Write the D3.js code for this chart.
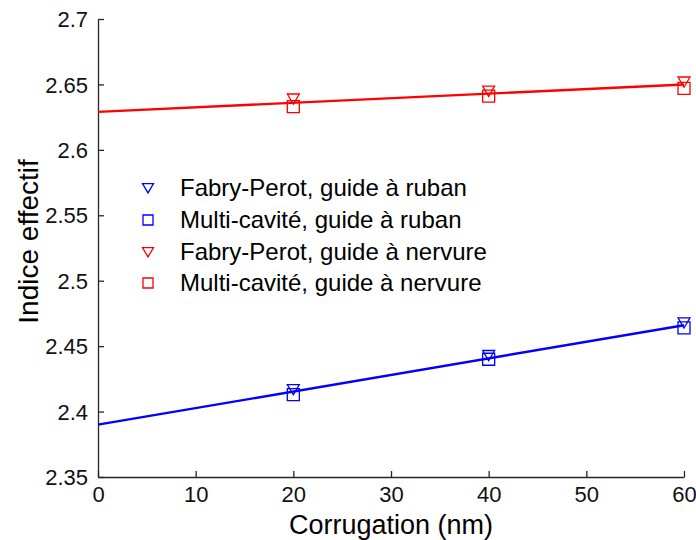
<!DOCTYPE html>
<html>
<head>
<meta charset="utf-8">
<script src="https://cdn.jsdelivr.net/npm/d3@7"></script>
<style>
  body { margin: 0; background: #fff; }
  svg { font-family: "Liberation Sans", Arial, sans-serif; }
</style>
</head>
<body>
<svg id="chart" width="696" height="540"></svg>
<script>
// Corrugation depths (nm) where measurements were taken.
const corrugation = [20, 40, 60];

// Measured effective indices, one array per series.
const fpRuban = [2.417, 2.443, 2.468];
const mcRuban = [2.413, 2.440, 2.464];
const fpNervure = [2.639, 2.645, 2.652];
const mcNervure = [2.633, 2.641, 2.647];

// Linear fits, drawn from x = 0 to x = 60.
const fitX = [0, 60];
const fitRuban = [2.390, 2.466];
const fitNervure = [2.629, 2.650];

const xTicks = [0, 10, 20, 30, 40, 50, 60];
const yTicks = [2.35, 2.4, 2.45, 2.5, 2.55, 2.6, 2.65, 2.7];

const legendLabels = [
  'Fabry-Perot, guide à ruban',
  'Multi-cavité, guide à ruban',
  'Fabry-Perot, guide à nervure',
  'Multi-cavité, guide à nervure',
];

const BLUE = '#0000ff';
const RED = '#ff0000';
const AXIS = '#262626';

const svg = d3.select('#chart');

const x = d3.scaleLinear().domain([0, 60]).range([98, 684]);
const y = d3.scaleLinear().domain([2.35, 2.7]).range([477, 19]);

// Axes: MATLAB style, ticks pointing inward, no box.
const xAxis = svg.append('g')
  .attr('transform', `translate(0,${y(2.35)})`)
  .call(d3.axisBottom(x).tickValues(xTicks).tickSizeInner(-6).tickSizeOuter(0)
    .tickFormat(d3.format('d')));

const yAxis = svg.append('g')
  .attr('transform', `translate(${x(0)},0)`)
  .call(d3.axisLeft(y).tickValues(yTicks).tickSizeInner(-6).tickSizeOuter(0)
    .tickFormat((d) => String(+d.toFixed(2))).tickPadding(10));

[xAxis, yAxis].forEach((g) => {
  g.select('.domain').attr('stroke', AXIS).attr('stroke-width', 1.3);
  g.selectAll('.tick line').attr('stroke', AXIS).attr('stroke-width', 1.3);
  g.selectAll('.tick text')
    .attr('fill', '#111')
    .style('font-size', '22px')
    .style('font-family', '"Liberation Sans", Arial, sans-serif');
});
xAxis.selectAll('.tick text').attr('y', 25).attr('dy', 0);
yAxis.selectAll('.tick text').attr('dy', '0.35em');

// Axis titles.
svg.append('text')
  .attr('x', (x(0) + x(60)) / 2)
  .attr('y', 534)
  .attr('text-anchor', 'middle')
  .style('font-size', '27px')
  .text('Corrugation (nm)');

svg.append('text')
  .attr('transform', `translate(38,${y(2.53)}) rotate(-90)`)
  .attr('text-anchor', 'middle')
  .style('font-size', '28px')
  .text('Indice effectif');

// Fit lines.
const line = d3.line().x((d) => x(d[0])).y((d) => y(d[1]));
[[fitRuban, BLUE], [fitNervure, RED]].forEach(([vals, color]) => {
  svg.append('path')
    .datum(fitX.map((xv, i) => [xv, vals[i]]))
    .attr('d', line)
    .attr('fill', 'none')
    .attr('stroke', color)
    .attr('stroke-width', 2.4);
});

// Marker shapes.
const triPath = (s) => `M${-s},${-s * 0.8} L${s},${-s * 0.8} L0,${s * 0.9} Z`;
const sqPath = (s) => `M${-s},${-s} H${s} V${s} H${-s} Z`;

const series = [
  {vals: fpRuban, color: BLUE, shape: 'tri'},
  {vals: mcRuban, color: BLUE, shape: 'sq'},
  {vals: fpNervure, color: RED, shape: 'tri'},
  {vals: mcNervure, color: RED, shape: 'sq'},
];

series.forEach((s) => {
  svg.append('g')
    .selectAll('path')
    .data(corrugation.map((c, i) => [c, s.vals[i]]))
    .join('path')
    .attr('transform', (d) => `translate(${x(d[0])},${y(d[1])})`)
    .attr('d', s.shape === 'tri' ? triPath(6) : sqPath(6))
    .attr('fill', 'none')
    .attr('stroke', s.color)
    .attr('stroke-width', 1.3);
});

// Legend.
const legend = svg.append('g');
const legendY = [188, 220, 252, 283];
series.forEach((s, i) => {
  legend.append('path')
    .attr('transform', `translate(148,${legendY[i]})`)
    .attr('d', s.shape === 'tri' ? triPath(5.5) : sqPath(5))
    .attr('fill', 'none')
    .attr('stroke', s.color)
    .attr('stroke-width', 1.3);
  legend.append('text')
    .attr('x', 180)
    .attr('y', legendY[i])
    .attr('dy', '0.35em')
    .style('font-size', '24px')
    .text(legendLabels[i]);
});
</script>
</body>
</html>
